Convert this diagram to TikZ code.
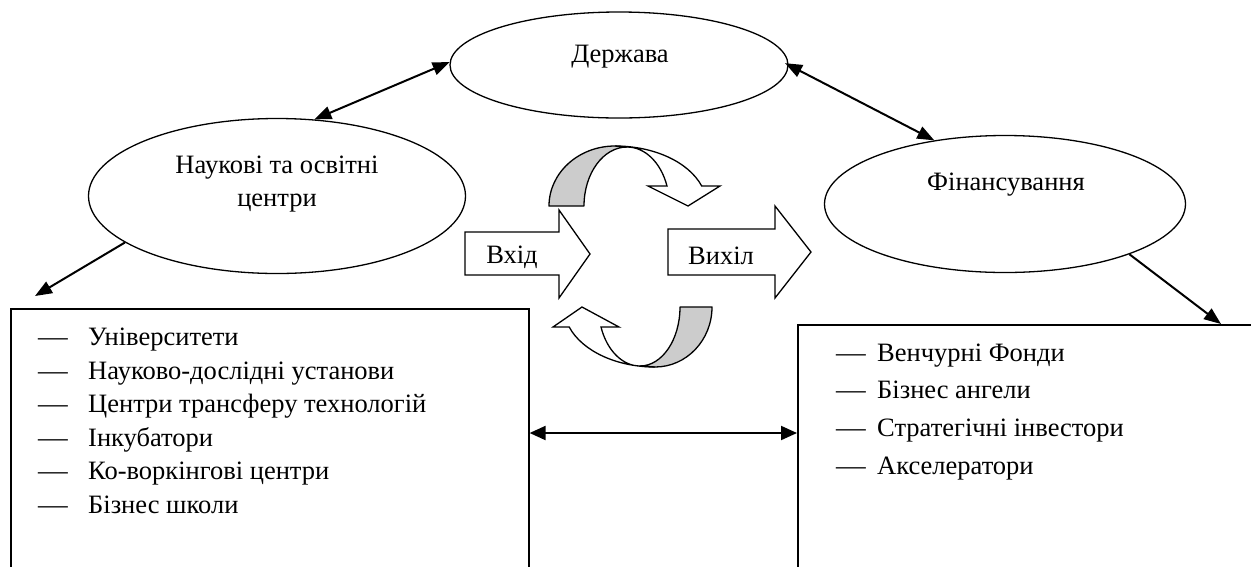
\documentclass[tikz,border=0pt]{standalone}
\usepackage{fontspec}
\usepackage{graphicx}
\setmainfont{Liberation Serif}
\usetikzlibrary{shapes.geometric,arrows.meta}
\definecolor{bandgray}{HTML}{CCCCCC}
\newcommand{\wdash}{\scalebox{1.12}[1]{—}}
\begin{document}
\begin{tikzpicture}[x=1pt,y=-1pt,
  ell/.style={draw, ellipse, line width=1.3pt, inner sep=0pt},
  txt/.style={font=\fontsize{26.5}{30}\selectfont, inner sep=0pt},
  conn/.style={line width=2pt, -{Triangle[length=17pt,width=13pt]}},
  biconn/.style={line width=2pt, {Triangle[length=17pt,width=13pt]}-{Triangle[length=17pt,width=13pt]}},
  hconn/.style={line width=2pt, {Triangle[length=16pt,width=14pt]}-{Triangle[length=16pt,width=14pt]}},
  boxst/.style={draw, line width=1.6pt, rectangle, anchor=north west, inner sep=0pt},
  blockarr/.style={draw, fill=white, line width=1.3pt, line join=miter},
  bandst/.style={draw, fill=bandgray, line width=1.3pt, line join=round},
  whitest/.style={draw, fill=white, line width=1.3pt, line join=miter}
]
\useasboundingbox (0,0) rectangle (1251,566);
\clip (0,0) rectangle (1251,566);

% ellipses
\node[ell, minimum width=338pt, minimum height=106pt] (gov) at (619,65) {};
\node[ell, minimum width=377pt, minimum height=155pt] (sci) at (277,196) {};
\node[ell, minimum width=361pt, minimum height=137pt] (fin) at (1005,204) {};

\node[txt, anchor=base] (govt) at (620,62) {Держава};
\node[txt, anchor=base] (scit1) at (277,173) {Наукові та освітні};
\node[txt, anchor=base] (scit2) at (277,206) {центри};
\node[txt, anchor=base] (fint) at (1006,190) {Фінансування};

% boxes
\node[boxst, minimum width=518pt, minimum height=320pt] (lbox) at (10,308) {};
\node[boxst, minimum width=500pt, minimum height=320pt] (rbox) at (797,324) {};

\foreach \t [count=\i] in {Університети, Науково-дослідні установи, Центри трансферу технологій, Інкубатори, Ко-воркінгові центри, Бізнес школи}
  \node[txt, anchor=base west] (l\i) at (38,{345.5+33.5*(\i-1)}) {\makebox[50pt][l]{\wdash}\t};

\foreach \t [count=\i] in {Венчурні Фонди, Бізнес ангели, Стратегічні інвестори, Акселератори}
  \node[txt, anchor=base west] (r\i) at (836,{361+37.7*(\i-1)}) {\makebox[41pt][l]{\wdash}\t};

% connectors
\coordinate (lt) at (35,296);
\coordinate (rt) at (1221,324);
\coordinate (midrow) at (0,433);
\draw[biconn] (gov.179) -- (sci.64);
\draw[biconn, shorten <=-4pt] (gov.east) -- (fin.138);
\draw[conn] (sci.197) -- (lt);
\draw[conn] (fin.-22) -- (rt);
\draw[hconn] (lbox.east |- midrow) -- (rbox.west |- midrow);

% block arrows
\draw[blockarr] (465,232) -- (559,232) -- (559,210) -- (590,254) -- (559,298) -- (559,275) -- (465,275) -- cycle;
\draw[blockarr] (668,229) -- (775,229) -- (775,206) -- (811,252) -- (775,298) -- (775,275) -- (668,275) -- cycle;
\node[txt, anchor=base] (intxt) at (512,263) {Вхід};
\node[txt, anchor=base] (outtxt) at (721,264) {Вихіл};

% top curved arrow
\draw[bandst] (549,206) .. controls (549,172.9) and (578.5,146) .. (615,146) -- (627,147)
  .. controls (603.3,147) and (584,173.4) .. (584,206) -- cycle;
\draw[whitest] (615,146) .. controls (654,146) and (688.7,162) .. (701.7,186) -- (720,186) -- (688,206) -- (648,186) -- (667,186)
  .. controls (660.9,162.5) and (645,147) .. (627,147) -- cycle;

% bottom curved arrow
\draw[bandst] (712,307) .. controls (712,340.1) and (686.5,367) .. (655,367) -- (640,366)
  .. controls (662.1,366) and (680,339.6) .. (680,307) -- cycle;
\draw[whitest] (655,367) .. controls (616.5,367) and (582.1,351) .. (569.2,327) -- (553,327) -- (582,307) -- (619,327) -- (601,327)
  .. controls (606.9,350.5) and (622.5,366) .. (640,366) -- cycle;
\end{tikzpicture}
\end{document}
